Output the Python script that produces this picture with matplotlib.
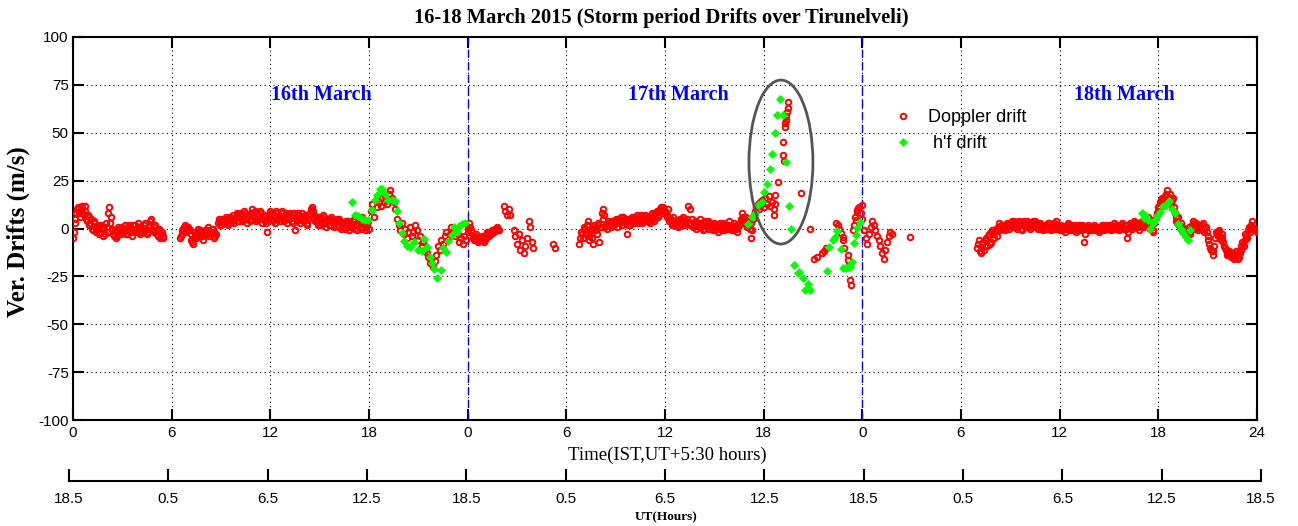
import numpy as np
import matplotlib
matplotlib.use("Agg")
import matplotlib.pyplot as plt
from matplotlib.patches import Ellipse

plt.rcParams["axes.unicode_minus"] = False

SERIF = "Liberation Serif"
SANS = "Liberation Sans"
CADENCE = 0.1  # hours between consecutive Doppler samples within a run

# ---- Doppler vertical drift (m/s): runs of samples, (start hour IST, values) ----
dop_16a = (0.0, [-5, 3, 8, 11, 6, 10, 8, 12, 5, 7, 2, 5, -1, 3, -2, 1, -3, 2, -4, 0, 3, -2,
                 11, 6, -1, -4, -5, -2, 0, -3, 1, -2, 0, -3, 2, -1, -4, 0, 2, -2, 1, -3, 0, 2,
                 -1, -3, 1, 4, 0, -2, 2, -3, -1, -5, -2, -4])
dop_16a2 = (0.05, [-2, 5, 10, 8, 9, 12, 7, 9, 4, 6, 3, 0, 4, 1, -1, 2, -2, 0, 1, -3,
                   1, 8, 3, 0, -3, -1, -4, 1, -2, 0, -1, 2, -3, 0, 1, -2, 2, -1, 0, 3,
                   -2, 1, -1, 3, 0, -2, 2, 5, -1, 1, -1, -4, 0, -3, -5])
dop_16b = (6.5, [-5, -3, 0, 2, -2, 1, -1, -6, -8, -3, -5, 0, -4, -2, -6, -1, -3, 1, -4, -2,
                 0, -5, -3])
dop_16b2 = (6.55, [-4, -1, 1, 0, -1, 0, -3, -7, -5, -4, -2, -3, -1, -4, -3, -2, -1, -2, -3, 0,
                   -2, -4])
dop_16c = (8.8, [3, 5, 2, 4, 3, 6, 2, 5, 4, 7, 3, 6,
                 8, 4, 7, 5, 9, 6, 3, 7, 5, 10, 6,
                 4, 8, 5, 9, 3, 7, 4, -2, 6,
                 9, 5, 7, 3, 8, 6, 4, 9, 5, 7, 3,
                 6, 8, 4, 7, -1, 5, 8, 3, 6, 4,
                 7, 2, 5, 8, 10, 9, 4, 6, 2, 5,
                 3, 7, 4, 1, 5, 2, 6, 3, 1, 4,
                 2, 5, 0, 3, 1, 4, 2, -1, 3, 1,
                 5, 2, -1, 4, 1, 6, 2, -1, 3, 0])
dop_16c2 = (8.85, [4, 2, 5, 3, 5, 4, 3, 6, 5, 4, 5, 7, 6, 8, 4, 7, 8, 5, 6, 4,
                   8, 7, 9, 5, 7, 6, 8, 5, 6, 3, 5, 7, 8, 4, 6, 9, 5, 7, 8, 6,
                   4, 8, 5, 7, 6, 3, 8, 6, 4, 7, 5, 8, 4, 6, 3, 7, 9, 11, 7, 5,
                   4, 6, 2, 5, 6, 3, 4, 2, 5, 4, 2, 3, 5, 1, 4, 2, 3, 0, 3, 4,
                   1, 2, 4, 0, 3, 2, 5, 0, 4, 1, 2, 4])
dop_16d = (18.1, [9, 13, 6, 15, 11, 14, 12, 16, 14, 17, 13, 18, 20, 16, 14, 10, 5, 2, -1, 3,
                  -3, 0, -5, -2, 1, -4, -2, 2, -1, -6, -4, -9, -7, -11, -13, -15, -18, -16,
                  -20, -17, -14, -9, -11, -6, -8, -4, -2, -6, -3, 1, -2, -4, 0, -3, -7, -5,
                  -8, -4, -6])
dop_17a = (24.0, [-2, 3, -1, -4, -6, -3, -7, -5, -6, -4, -7, -5, -2, -4, -3, -1, -2, 0, 1, -1])
dop_17a2 = (24.05, [0, 1, -2, -5, -4, -6, -6, -5, -5, -6, -6, -3, -3, -2, -2, -1, 0, 0, -1])
dop_17b = (26.2, [12, 9, 7, 10, 7])
dop_17c = (26.8, [-1, -4, -8, -3, -11, -6, -13, -9, -5, 4, 1, -7, -10])
dop_17d = (29.2, [-8, -10])
dop_17e = (30.8, [-8, -2, -5, 1, -3, 4, -6, 0, -8, 2, -1, 3, -7, 1, 10, 7, 2, 0, 3, 1,
                  4, 2, 5, 1, 4, 6, 2, 5, 3, -3, 4, 2, 6, 3, 5, 7, 4, 6, 3, 5,
                  7, 4, 6, 3, 8, 5, 7, 9, 6, 10, 8, 11])
dop_17e2 = (30.85, [-5, -3, -1, 0, 2, -4, -2, -5, 0, 1, -3, 2, 1, 8, 5, 1, 2, 4, 2, 3,
                    3, 4, 3, 5, 3, 4, 6, 4, 5, 2, 5, 4, 4, 6, 5, 3, 5, 7, 4, 6,
                    5, 6, 4, 7, 6, 4, 8, 7, 9, 11, 9])
dop_17f = (36.0, [9, 7, 10, 5, 3, 6, 2, 4, 1, 5, 3, 6, 2, 4, 12, 10, 3, 1, 4, 0,
                  3, 5, 1, -1, 3, 2, 4, 0, 2, -1, 3, 1, -2, 2, 0, 3, -1, 2, 0, 4,
                  1, -1, 3, 0, -2, 2, 5, 8, 3, 6, 1, 4, -5, -1, 7, 9, 12, 10, 14])
dop_17f2 = (36.05, [8, 6, 4, 5, 2, 4, 3, 2, 4, 2, 5, 4, 3, 5, 3, 2, 5, 2, 3, 2,
                    1, 3, 2, 0, 4, 1, 2, 3, 1, 0, 2, 0, 1, 3, -1, 1, 2, 1, 2, 0,
                    2, 1, 0, 2, 1, 3, 4, 6, 5, 3, 2, 0, 3, 5, 8, 11, 13, 12])
dop_17g = (41.9, [15, 11, 16, 13, 17, 12, 14, 10, 13])
dop_18a = (48.0, [5, -1, -5, -8, -3, 1, 4, 2, -1, -4, -6, -9, -13, -16, -11, -7, -4, -2, -3])
dop_18b = (55.0, [-10, -6, -13, -8, -11, -5, -9, -3, -7, -1, -5, 0, -4, 3, -1, 1, 2, -1, 3, 0,
                  2, 4, 1, 3, 0, 4, 2, -1, 3, 1, 4, 2, 0, 3, 1, 4, 2, 0, 3, 1,
                  -1, 2, 0, 3, 1, -1, 2, 0, 4, 1, -1, 2, 0, -2, 1, 3, 0, 2, -1, 1,
                  -2, 0, 2, -1, 1, -7, 0, 2, -1, 1, 0, 2, -1, 1, -2, 0, 2, -1, 1, 0,
                  2, -1, 1, 3, 0, 2, -1, 1, 3, 0, 2, -5, 1, 3, 0, 4, 1, 3, -1, 2,
                  4, 1, 5, 2, 6, 0, 3, -2, 5, 8, 11, 14, 16, 12, 17, 20, 15, 18, 13, 16,
                  8, 4, 6, 1, 3, -2, 0, -4, -1, -3, 0, 4, 1, 3, -1, 2, 0, 3, -2, 1,
                  -4, -8, -11, -14, -9, -2, -4, -1, -6, -3, -9, -11, -14, -12, -15, -13, -16,
                  -12, -14, -15, -11, -7, -9, -3, -5, 1, -2, 4, 0, -1, -2])
dop_18b2 = (55.05, [-8, -12, -10, -7, -9, -6, -4, -8, -2, -3, -2, -1, 1, 0, 2, 0, 1, 2, 1, 2,
                    3, 2, 4, 1, 2, 3, 0, 2, 4, 2, 3, 1, 2, 4, 2, 3, 1, 2, 0, 2,
                    1, 0, 2, 3, 0, 1, 3, 1, 2, 0, 1, -1, 1, 0, 2, 1, -1, 1, 0, 2,
                    -1, 1, 0, 2, 0, -3, 1, 0, 1, -1, 1, 0, 1, 0, -1, 1, 0, 2, 0, 1,
                    0, 2, 0, 1, 2, 1, 0, 2, 1, 2, 0, -2, 2, 1, 2, 3, 2, 1, 3, 2,
                    3, 2, 4, 3, 2, 4, -1, 3, 6, 9, 12, 15, 13, 15, 18, 17, 16, 14, 15, 11,
                    6, 3, 2, 0, 1, -1, -2, -3, 1, -2, 2, 3, 0, 2, 1, 1, 2, 0, 1, -2,
                    -6, -10, -12, -12, -5, -3, -2, -4, -5, -7, -10, -13, -13, -14, -14, -15,
                    -14, -13, -16, -13, -9, -8, -6, -4, -1, 0, 2, 1, 0, -1])

# Sparse Doppler samples during the 17 March storm-time excursion
dop_storm_t = [42.6, 42.7, 42.9, 43.15, 43.2, 43.25, 43.3, 43.32, 43.35, 43.38, 43.42,
               43.45, 43.48, 44.3, 44.8]
dop_storm_v = [7, 17.5, 24.4, 38.5, 45, 35, 53, 55, 56.5, 59, 61, 63, 66, 18.5, 0]
dop_post_t = [45.08, 45.27, 45.53, 45.68, 45.8, 46.4, 46.5, 46.6, 46.7, 46.8, 46.85, 46.9,
              47.1, 47.15, 47.2, 47.25, 47.3, 47.45, 47.5, 47.55, 47.6, 47.65, 47.7, 47.75,
              47.8, 47.9, 47.97, 50.9]
dop_post_v = [-16, -15, -13, -11.6, -10.4, 3, 1.8, -0.4, -2.5, -4.3, -6, -10.4,
              -14, -16.4, -19, -27, -29.5, -0.8, 1.8, 6.2, 4.4, 8.8, 9.7, 10.6,
              11.4, 8, 12.3, -4.3]

# ---- h'F drift (m/s) ----
hf16_t = [16.99, 17.15, 17.35, 17.55, 17.76, 17.96, 18.16, 18.37, 18.51, 18.67, 18.77, 18.97,
          19.18, 19.38, 19.58, 19.68, 19.82, 19.99, 20.15, 20.33, 20.49, 20.74, 21.0, 21.2,
          21.35, 21.51, 21.71, 21.81, 21.95, 22.15, 22.36, 22.52, 22.66, 22.82, 23.03, 23.19,
          23.33, 23.49, 23.68, 23.84]
hf16_v = [13.8, 7.1, 6.3, 4.9, 4.2, 4.2, 9.7, 15, 17.6, 20.7, 20.7, 18.1,
          15, 15, 14.6, 8.9, 2.8, -2.1, -6.3, -9.1, -9.7, -6.8, -11.1, -12,
          -5.4, -9.7, -15, -17.8, -21.2, -25.9, -21.6, -10.3, -12.5, -6.3, -3.3, 0.7,
          -1.6, 1.4, 2.4, 2.8]
hf17_t = [41.07, 41.27, 41.47, 41.68, 41.88, 42.02, 42.18, 42.38, 42.53, 42.69, 42.83, 43.0,
          43.2, 43.37, 43.54, 43.66, 43.87, 44.07, 44.17, 44.37, 44.52, 44.72, 44.82, 45.87,
          45.99, 46.2, 46.34, 46.48, 46.69, 46.85, 47.0, 47.15, 47.25, 47.35, 47.51, 47.62,
          47.7, 47.86]
hf17_v = [2.1, 6.2, 7.9, 12.3, 13.6, 19.2, 23.2, 30.9, 38.7, 49.7, 59.3, 67.5,
          59.3, 34.9, 11.9, -0.3, -19, -23.4, -22.9, -25.7, -32.3, -29.2, -32.3, -22.2,
          -9.5, -6, -4.3, -1.1, -10.9, -20.8, -20.8, -20.3, -20.3, -17.3, -7.7, -3.4,
          0.1, 3.6]
hf18_t = [64.99, 65.1, 65.19, 65.35, 65.49, 65.66, 65.8, 65.94, 66.1, 66.27, 66.47, 66.65,
          66.81, 67.01, 67.22, 67.38, 67.52, 67.69, 67.83, 67.93]
hf18_v = [8.0, 5.5, 7.1, 4.5, -0.3, 2.8, 4.5, 6.3, 8.4, 11.5, 12.4, 14.4,
          10.1, 8.0, 2.4, -0.3, -2.4, -4.2, -5.9, -0.7]

# ---- axes text ----
ist_ticks = list(range(0, 73, 6))
ist_labels = ["0", "6", "12", "18", "0", "6", "12", "18", "0", "6", "12", "18", "24"]
ut_labels = ["18.5", "0.5", "6.5", "12.5", "18.5", "0.5", "6.5", "12.5", "18.5", "0.5",
             "6.5", "12.5", "18.5"]
day_labels = ["16th March", "17th March", "18th March"]
day_label_x = [15.1, 36.8, 63.95]
day_bounds = [24, 48]

runs = [dop_16a, dop_16a2, dop_16b, dop_16b2, dop_16c, dop_16c2, dop_16d, dop_17a, dop_17a2,
        dop_17b, dop_17c, dop_17d, dop_17e, dop_17e2, dop_17f, dop_17f2, dop_17g, dop_18a,
        dop_18b, dop_18b2]
dop_t = np.concatenate([s + CADENCE * np.arange(len(v)) for s, v in runs] +
                       [dop_storm_t, dop_post_t])
dop_v = np.concatenate([v for _, v in runs] + [dop_storm_v, dop_post_v])
hf_t = np.concatenate([hf16_t, hf17_t, hf18_t])
hf_v = np.concatenate([hf16_v, hf17_v, hf18_v])

W, H = 1298, 526
fig = plt.figure(figsize=(W / 100, H / 100), dpi=100)
fig.patch.set_facecolor("white")

L, R, T, B = 73, 1257, 37, 420
ax = fig.add_axes([L / W, 1 - B / H, (R - L) / W, (B - T) / H])

ax.plot(dop_t, dop_v, ls="none", marker="o", ms=4.0, mfc="none", mec="#ff0000", mew=1.4,
        label="Doppler drift", zorder=3)
ax.plot(hf_t, hf_v, ls="none", marker="D", ms=3.8, mfc="#00ff00", mec="#00ff00", mew=0.5,
        label=" h'f drift", zorder=4)

for xb in day_bounds:
    ax.axvline(xb, color="#0000ff", lw=1.0, ls=(0, (6, 3)), zorder=2)

ax.add_patch(Ellipse((43.05, 34.7), 3.89, 85.6, fill=False, edgecolor="#555555", lw=2.0,
                     zorder=5))

for lab, xl in zip(day_labels, day_label_x):
    ax.text(xl, 69.7, lab, color="#0000ff", fontsize=14.5, fontweight="bold",
            family=SERIF, ha="center", va="center")

ax.set_xlim(0, 72)
ax.set_ylim(-100, 100)
ax.set_xticks(ist_ticks)
ax.set_xticklabels(ist_labels)
ax.set_yticks(np.arange(-100, 101, 25))
ax.grid(True, color="black", lw=0.8, ls=(0, (1, 3)))
ax.set_axisbelow(True)
for sp in ax.spines.values():
    sp.set_linewidth(1.5)
ax.tick_params(direction="in", length=8, width=1.5, top=True, right=True,
               labelsize=11, pad=4)
ax.tick_params(axis="y", pad=3)
for lab in ax.get_xticklabels() + ax.get_yticklabels():
    lab.set_family(SANS)

ax.text((661 - L) / (R - L), (B - 18) / (B - T),
        "16-18 March 2015 (Storm period Drifts over Tirunelveli)",
        transform=ax.transAxes, ha="center", va="center", fontsize=14.8,
        fontweight="bold", family=SERIF)
ax.set_ylabel("Ver. Drifts (m/s)", fontsize=18, fontweight="bold", family=SERIF)
ax.yaxis.set_label_coords((18 - L) / (R - L), (B - 232) / (B - T))
ax.yaxis.label.set_va("center")
ax.set_xlabel("Time(IST,UT+5:30 hours)", fontsize=13.5, family=SERIF)
ax.xaxis.set_label_coords((667 - L) / (R - L), (B - 455) / (B - T))
ax.xaxis.label.set_va("center")

leg = ax.legend(loc="upper left", bbox_to_anchor=((894 - L) / (R - L), (B - 109) / (B - T)),
                frameon=False, handlelength=1.0, handletextpad=0.9,
                labelspacing=0.5, borderaxespad=0, borderpad=0,
                prop={"family": SANS, "size": 13})

# UT scale drawn as a separate bare axis beneath the main panel
uL, uR, uY = 69, 1261, 481
ax2 = fig.add_axes([uL / W, 1 - uY / H, (uR - uL) / W, 0.001])
ax2.set_facecolor("none")
for side in ("top", "left", "right"):
    ax2.spines[side].set_visible(False)
ax2.spines["bottom"].set_linewidth(1.5)
ax2.set_xlim(0, 72)
ax2.set_yticks([])
ax2.set_xticks(ist_ticks)
ax2.set_xticklabels(ut_labels)
ax2.tick_params(axis="x", direction="in", length=9, width=1.5, labelsize=11, pad=8)
for lab in ax2.get_xticklabels():
    lab.set_family(SANS)
fig.text(666 / W, 1 - 517 / H, "UT(Hours)", ha="center", va="center", fontsize=9.5,
         fontweight="bold", family=SERIF)

fig.savefig("out.png", dpi=100)
